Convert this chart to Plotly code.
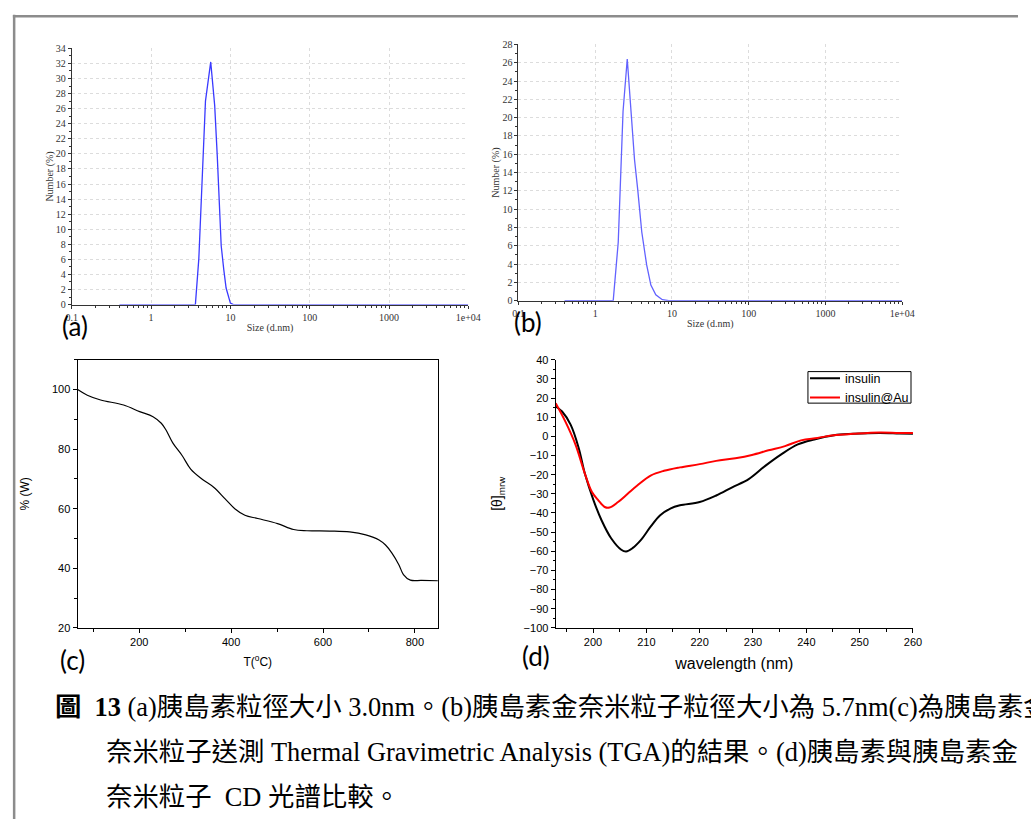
import plotly.graph_objects as go

W, H = 1031, 825

# ---------------- data ----------------
# (a) DLS insulin
a_size = [0.4, 3.62, 4.0, 4.85, 5.65, 6.34, 6.84, 7.66, 8.26, 8.83, 10.0, 10.9, 10000]
a_number = [0, 0, 6.1, 27.0, 32.2, 26.4, 19.6, 7.8, 4.6, 2.2, 0.2, 0, 0]

# (b) DLS insulin-Au
b_size = [0.4, 1.72, 2.0, 2.31, 2.62, 2.96, 3.26, 3.59, 4.05, 4.69, 5.32, 6.17, 7.5, 9.1, 10000]
b_number = [0, 0, 6.4, 20.7, 26.4, 20.0, 15.4, 12.1, 7.5, 3.9, 1.7, 0.65, 0.1, 0, 0]

dls_tickvals = [0.1, 1, 10, 100, 1000, 10000]
dls_ticktext = ["0.1", "1", "10", "100", "1000", "1e+04"]

# (c) TGA
tga_temp = [66, 87, 116, 166, 201, 230, 248, 258, 273, 294, 312, 337, 362, 387, 408,
            430, 458, 501, 536, 565, 615, 658, 693, 722, 736, 750, 765, 775, 790, 814, 850]
tga_weight = [100, 98.1, 96.5, 94.8, 92.6, 90.9, 88.7, 86.5, 82.1, 77.7, 73.3, 69.9, 67.2,
              63.3, 60.0, 57.8, 56.7, 55.0, 53.0, 52.6, 52.5, 52.2, 51.2, 49.5, 47.8, 45.1,
              41.2, 37.9, 36.0, 35.9, 35.8]

# (d) CD spectra
cd_wl_ins = [193, 194.2, 195.8, 197.3, 198.5, 200.1, 201.6, 203.4, 205.3, 206.2, 207.4, 209.0,
             210.8, 212.6, 214.5, 216.3, 220, 223.1, 226.1, 229.2, 232.3, 235.3, 238.4,
             241.5, 245.2, 248.8, 253.7, 257.4, 260]
cd_ins = [15.6, 13.0, 6.1, -5.9, -19.7, -33.4, -43.8, -53.2, -59.2, -60.1, -58.4, -54.1,
          -47.2, -41.2, -37.7, -36.0, -34.3, -30.9, -26.6, -22.3, -15.4, -9.4, -4.2,
          -1.6, 0.6, 1.3, 1.8, 1.5, 1.3]
cd_wl_au = [193, 194.8, 196.7, 198.5, 199.8, 201.0, 202.2, 203.1, 204.7, 206.5, 208.3, 210.8,
            213.3, 216.3, 220, 223.1, 226.7, 229.8, 232.9, 236, 239, 242.1, 245.2, 248.8,
            253.7, 257.4, 260]
cd_au = [17.3, 7.8, -4.2, -19.7, -29.1, -33.4, -36.9, -37.2, -34.3, -30.0, -25.7, -20.5,
         -18.0, -16.2, -14.5, -12.8, -11.4, -9.7, -7.3, -5.1, -2.1, -0.8, 0.6, 1.3,
         2.0, 1.8, 1.8]

caption_lines = [
    "<b>圖  13</b> (a)胰島素粒徑大小 3.0nm。(b)胰島素金奈米粒子粒徑大小為 5.7nm(c)為胰島素金",
    "奈米粒子送測 Thermal Gravimetric Analysis (TGA)的結果。(d)胰島素與胰島素金",
    "奈米粒子  CD 光譜比較。",
]

# ---------------- helpers (page pixels -> paper fractions) ----------------
def dx(px):
    return px / W

def dy(py):
    return 1 - py / H

SERIF = "Liberation Serif, Times New Roman, serif"
SANS = "Liberation Sans, Arial, sans-serif"
CAP = "Liberation Serif, Noto Sans CJK TC, serif"

fig = go.Figure()

fig.add_trace(go.Scatter(x=a_size, y=a_number, mode="lines", line=dict(color="#3a3aff", width=1.3),
                         xaxis="x", yaxis="y", showlegend=False))
fig.add_trace(go.Scatter(x=b_size, y=b_number, mode="lines", line=dict(color="#6262ff", width=1.3),
                         xaxis="x2", yaxis="y2", showlegend=False))
fig.add_trace(go.Scatter(x=tga_temp, y=tga_weight, mode="lines", line=dict(color="black", width=1.2, shape="spline"),
                         xaxis="x3", yaxis="y3", showlegend=False))
fig.add_trace(go.Scatter(x=cd_wl_ins, y=cd_ins, mode="lines", name="insulin",
                         line=dict(color="black", width=2, shape="spline"), xaxis="x4", yaxis="y4"))
fig.add_trace(go.Scatter(x=cd_wl_au, y=cd_au, mode="lines", name="insulin@Au",
                         line=dict(color="#ff0000", width=2, shape="spline"), xaxis="x4", yaxis="y4"))

dls_x = dict(type="log", range=[-1, 4], tickvals=dls_tickvals, ticktext=dls_ticktext,
             showline=True, linecolor="#333", linewidth=1, ticks="outside", ticklen=3, tickcolor="#333",
             showgrid=True, gridcolor="#dcdcdc", griddash="dot", gridwidth=1,
             minor=dict(dtick="D1", ticks="outside", ticklen=2, tickcolor="#333", showgrid=False),
             tickfont=dict(family=SERIF, size=10, color="#333"), zeroline=False,
             title=dict(text="Size (d.nm)", font=dict(family=SERIF, size=10, color="#333"), standoff=2))
dls_y = dict(showline=True, linecolor="#333", linewidth=1, ticks="outside", ticklen=3, tickcolor="#333",
             dtick=2, showgrid=True, gridcolor="#dcdcdc", griddash="dot", gridwidth=1,
             minor=dict(dtick=1, ticks="outside", ticklen=2, tickcolor="#333", showgrid=False),
             tickfont=dict(family=SERIF, size=10, color="#333"), zeroline=False,
             title=dict(text="Number (%)", font=dict(family=SERIF, size=10, color="#333"), standoff=0))

fig.update_layout(
    width=W, height=H, autosize=False,
    margin=dict(l=0, r=0, t=0, b=0),
    paper_bgcolor="white", plot_bgcolor="white",
    xaxis=dict(dls_x, domain=[dx(67), dx(471)], anchor="y"),
    yaxis=dict(dls_y, domain=[dy(303), dy(43)], range=[0, 34], anchor="x"),
    xaxis2=dict(dls_x, domain=[dx(522), dx(913)], anchor="y2"),
    yaxis2=dict(dls_y, domain=[dy(299), dy(39)], range=[0, 28], anchor="x2"),
    xaxis3=dict(domain=[dx(73), dx(440)], anchor="y3", range=[66, 850], dtick=200,
                showline=True, linecolor="black", linewidth=1.2, mirror=True,
                ticks="outside", ticklen=4, tickcolor="black", showgrid=False, zeroline=False,
                minor=dict(dtick=100, ticks="outside", ticklen=3, tickcolor="black"),
                tickfont=dict(family=SANS, size=11, color="black"),
                title=dict(text="T(<sup>o</sup>C)", font=dict(family=SANS, size=12, color="black"), standoff=10)),
    yaxis3=dict(domain=[dy(631), dy(359)], anchor="x3", range=[20, 110], tickvals=[20, 40, 60, 80, 100],
                showline=True, linecolor="black", linewidth=1.2, mirror=True,
                ticks="outside", ticklen=4, tickcolor="black", showgrid=False, zeroline=False,
                minor=dict(dtick=10, ticks="outside", ticklen=3, tickcolor="black"),
                tickfont=dict(family=SANS, size=11, color="black"),
                title=dict(text="% (W)", font=dict(family=SANS, size=12, color="black"), standoff=19)),
    xaxis4=dict(domain=[dx(560), dx(924)], anchor="y4", range=[193, 260], dtick=10,
                showline=True, linecolor="black", linewidth=1.2,
                ticks="outside", ticklen=4, tickcolor="black", showgrid=False, zeroline=False,
                minor=dict(dtick=5, ticks="outside", ticklen=3, tickcolor="black"),
                tickfont=dict(family=SANS, size=11, color="black"),
                title=dict(text="wavelength (nm)", font=dict(family=SANS, size=16, color="black"), standoff=10)),
    yaxis4=dict(domain=[dy(631), dy(359)], anchor="x4", range=[-100, 40], dtick=10,
                showline=True, linecolor="black", linewidth=1.2,
                ticks="outside", ticklen=4, tickcolor="black", showgrid=False, zeroline=False,
                minor=dict(dtick=5, ticks="outside", ticklen=2, tickcolor="black"),
                tickfont=dict(family=SANS, size=11, color="black"),
                title=dict(text="[θ]<sub>mrw</sub>", font=dict(family=SANS, size=14, color="black"), standoff=17)),
    legend=dict(x=dx(814), y=dy(363), xanchor="left", yanchor="top",
                borderwidth=0, bgcolor="rgba(0,0,0,0)",
                font=dict(family=SANS, size=12.5, color="black"), tracegroupgap=0, itemwidth=30),
)

# legend frame of panel (d)
fig.add_shape(type="rect", xref="paper", yref="paper", x0=dx(817), x1=dx(922), y0=dy(403), y1=dy(371),
              line=dict(color="black", width=1), layer="below")

# frame of the figure page
fig.add_shape(type="line", xref="paper", yref="paper", x0=dx(7), x1=1, y0=dy(10.3), y1=dy(10.3),
              line=dict(color="#8c8c8c", width=2.5))
fig.add_shape(type="line", xref="paper", yref="paper", x0=dx(8.3), x1=dx(8.3), y0=dy(9), y1=0,
              line=dict(color="#8c8c8c", width=2.5))

# panel labels
for lab, (px, py) in zip(["(a)", "(b)", "(c)", "(d)"], [(70, 325), (532, 321), (68, 664), (540, 660)]):
    fig.add_annotation(text=lab, x=dx(px), y=dy(py), xref="paper", yref="paper", showarrow=False,
                       xanchor="center", yanchor="middle",
                       font=dict(family="Lato, Open Sans, sans-serif", size=26, color="black"))

# caption
for i, (line, px) in enumerate(zip(caption_lines, [48, 100, 100])):
    fig.add_annotation(text=line, x=dx(px), y=dy(711 + 46 * i), xref="paper", yref="paper",
                       showarrow=False, xanchor="left", yanchor="middle",
                       font=dict(family=CAP, size=26.4, color="black"))

fig.write_html("out.html", config={"displayModeBar": False},
               post_script="document.body.style.margin='0';")
